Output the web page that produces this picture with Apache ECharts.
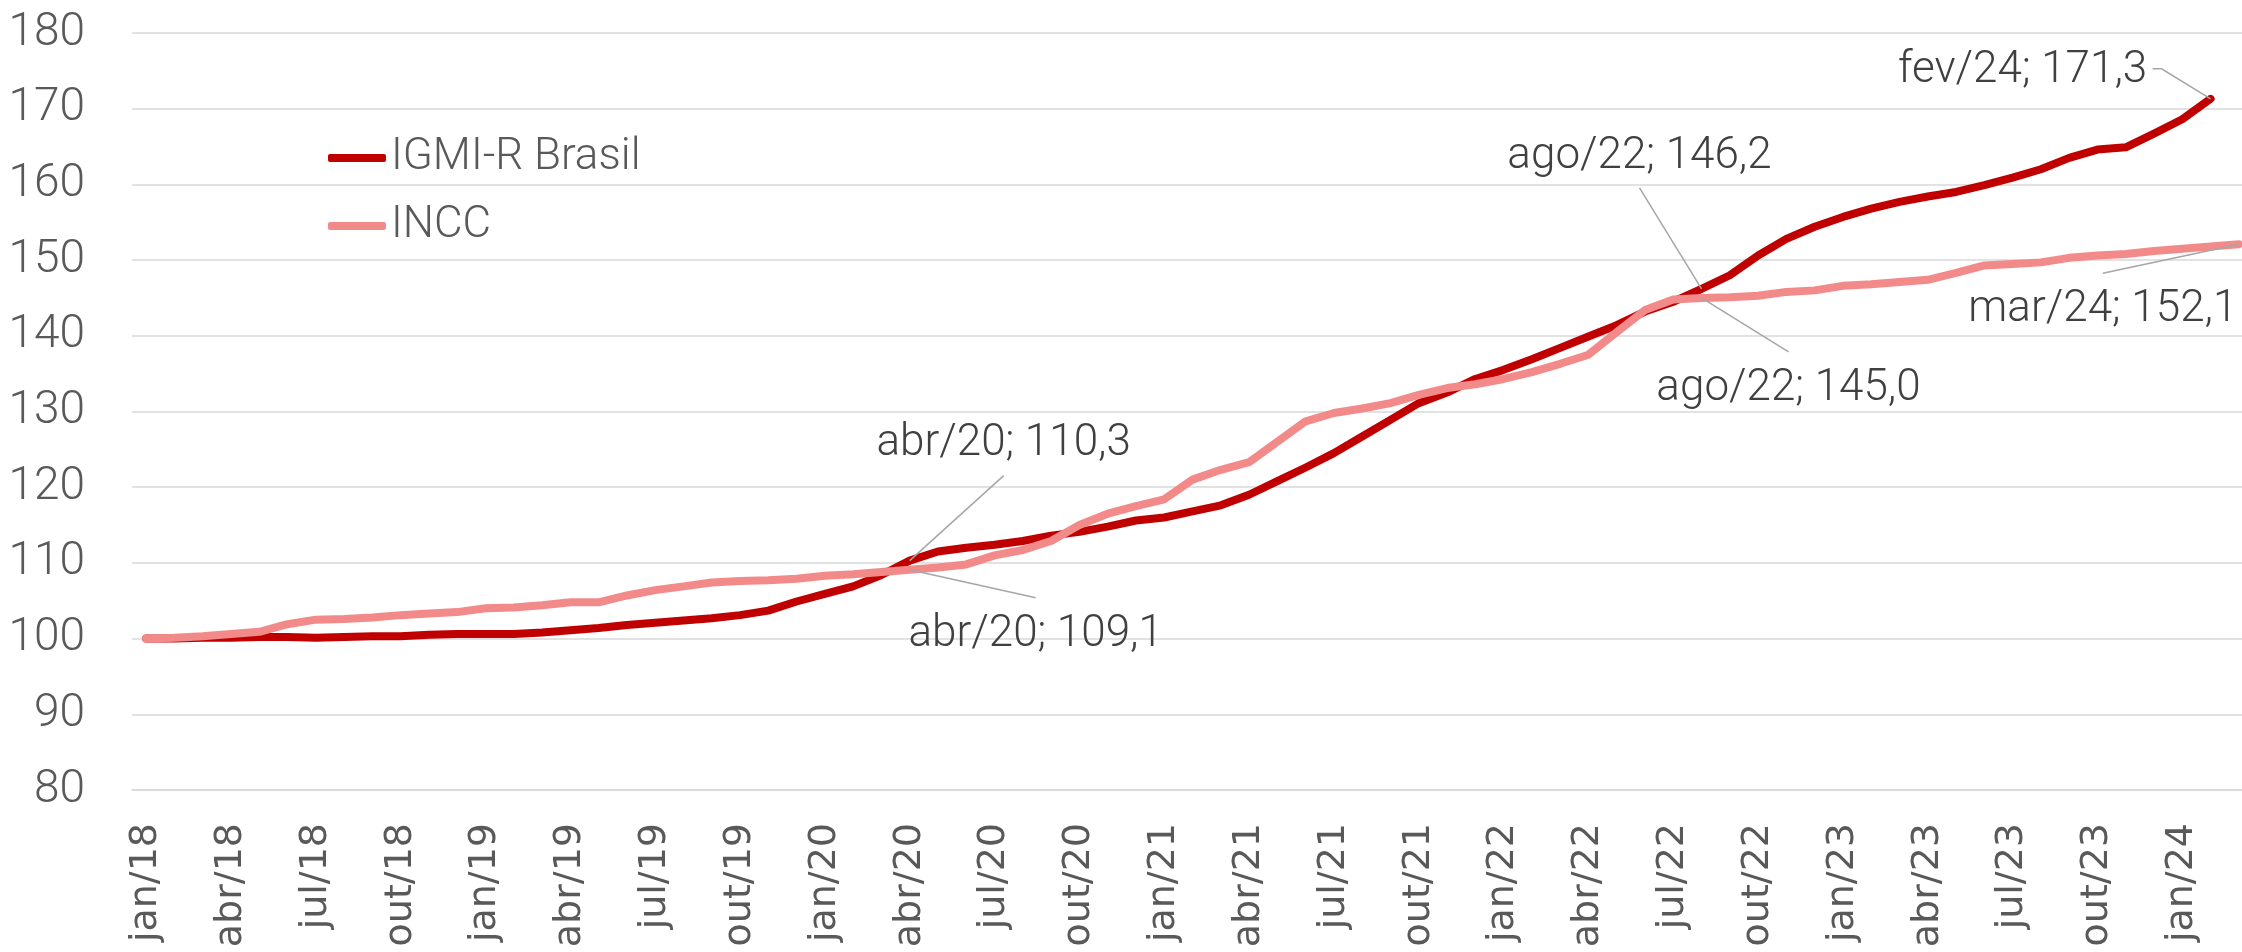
<!DOCTYPE html>
<html lang="pt">
<head>
  <meta charset="UTF-8">
  <title>IGMI-R Brasil x INCC</title>
  <style>
    html, body { margin: 0; background: #fff; }
    #chart { width: 2242px; height: 952px; }
  </style>
</head>
<body>
  <div id="chart"></div>
  <script src="https://cdn.jsdelivr.net/npm/echarts@6/dist/echarts.min.js"></script>
  <script>
    // meses de jan/18 a mar/24
    var categorias = [
      'jan/18', 'fev/18', 'mar/18', 'abr/18', 'mai/18', 'jun/18', 'jul/18', 'ago/18', 'set/18', 'out/18', 'nov/18', 'dez/18',
      'jan/19', 'fev/19', 'mar/19', 'abr/19', 'mai/19', 'jun/19', 'jul/19', 'ago/19', 'set/19', 'out/19', 'nov/19', 'dez/19',
      'jan/20', 'fev/20', 'mar/20', 'abr/20', 'mai/20', 'jun/20', 'jul/20', 'ago/20', 'set/20', 'out/20', 'nov/20', 'dez/20',
      'jan/21', 'fev/21', 'mar/21', 'abr/21', 'mai/21', 'jun/21', 'jul/21', 'ago/21', 'set/21', 'out/21', 'nov/21', 'dez/21',
      'jan/22', 'fev/22', 'mar/22', 'abr/22', 'mai/22', 'jun/22', 'jul/22', 'ago/22', 'set/22', 'out/22', 'nov/22', 'dez/22',
      'jan/23', 'fev/23', 'mar/23', 'abr/23', 'mai/23', 'jun/23', 'jul/23', 'ago/23', 'set/23', 'out/23', 'nov/23', 'dez/23',
      'jan/24', 'fev/24', 'mar/24'
    ];

    // IGMI-R Brasil (até fev/24)
    var igmi = [
      100.0, 100.0, 100.1, 100.1, 100.2, 100.2, 100.1, 100.2, 100.3, 100.3, 100.5, 100.6,
      100.6, 100.6, 100.8, 101.1, 101.4, 101.8, 102.1, 102.4, 102.7, 103.1, 103.7, 104.9,
      105.9, 106.9, 108.4, 110.3, 111.5, 112.0, 112.4, 112.9, 113.6, 114.1, 114.8, 115.6,
      116.0, 116.8, 117.6, 119.0, 120.8, 122.6, 124.5, 126.7, 128.9, 131.1, 132.5, 134.3,
      135.5, 136.9, 138.4, 139.9, 141.4, 143.2, 144.5, 146.2, 148.0, 150.6, 152.8, 154.4,
      155.7, 156.8, 157.7, 158.4, 159.0, 159.9, 160.9, 162.0, 163.5, 164.6, 164.9, 166.7,
      168.6, 171.3
    ];

    // INCC (até mar/24)
    var incc = [
      100.0, 100.1, 100.3, 100.6, 100.9, 101.9, 102.5, 102.6, 102.8, 103.1, 103.3, 103.5,
      104.0, 104.1, 104.4, 104.8, 104.8, 105.7, 106.4, 106.9, 107.4, 107.6, 107.7, 107.9,
      108.3, 108.5, 108.8, 109.1, 109.4, 109.8, 111.0, 111.7, 112.9, 115.0, 116.5, 117.5,
      118.4, 121.0, 122.3, 123.3, 126.0, 128.7, 129.8, 130.4, 131.1, 132.2, 133.1, 133.6,
      134.3, 135.2, 136.3, 137.5, 140.5, 143.4, 144.8, 145.0, 145.1, 145.3, 145.8, 146.0,
      146.6, 146.8, 147.1, 147.4, 148.3, 149.3, 149.5, 149.7, 150.3, 150.6, 150.8, 151.2,
      151.5, 151.8, 152.1
    ];

    var series = [igmi, incc];

    // pontos com rótulo: [série, índice do mês]
    var destaques = [[0, 27], [1, 27], [0, 55], [1, 55], [0, 73], [1, 74]];
    // deslocamento do centro do rótulo em relação ao ponto (px)
    var deslocRotulo = [[94, -117], [126, 65], [-62, -132], [87, 91], [-188, -28], [-136, 66]];
    // início da linha guia, relativo ao centro do rótulo (px)
    var guiaRotulo = [
      [[0, 32]],
      [[0, -37]],
      [[0, 31]],
      [[0, -37]],
      [[130, -2], [139, -2]],
      [[0, -37]]
    ];

    var fonteClara = { fontFamily: 'Roboto', fontWeight: 300 };

    function fmt(v) {
      return v.toFixed(1).replace('.', ',');
    }

    function serie(nome, valores, cor) {
      return {
        name: nome,
        type: 'line',
        data: valores,
        showSymbol: false,
        symbol: 'none',
        itemStyle: { color: cor },
        lineStyle: { color: cor, width: 8, cap: 'round', join: 'round' },
        emphasis: { disabled: true }
      };
    }

    // rótulos com linha guia, posicionados a partir das coordenadas do eixo
    var anotacoes = {
      type: 'custom',
      name: 'rotulos',
      clip: false,
      z: 5,
      silent: true,
      data: destaques.map(function (d, k) {
        return [d[1], series[d[0]][d[1]], k];
      }),
      renderItem: function (params, api) {
        var p = api.coord([api.value(0), api.value(1)]);
        var k = api.value(2);
        var idx = api.value(0);
        var cx = p[0] + deslocRotulo[k][0];
        var cy = p[1] + deslocRotulo[k][1];
        var pts = guiaRotulo[k].map(function (o) { return [cx + o[0], cy + o[1]]; });
        pts.push(p);
        return {
          type: 'group',
          children: [
            {
              type: 'polyline',
              shape: { points: pts },
              style: { stroke: '#a6a6a6', lineWidth: 1.5, fill: null }
            },
            {
              type: 'text',
              style: {
                text: categorias[idx] + '; ' + fmt(api.value(1)),
                x: cx,
                y: cy,
                align: 'center',
                verticalAlign: 'middle',
                fill: '#404040',
                font: fonteClara.fontWeight + ' 44px ' + fonteClara.fontFamily
              }
            }
          ]
        };
      }
    };

    var chart = echarts.init(document.getElementById('chart'));
    chart.setOption({
      animation: false,
      backgroundColor: '#fff',
      grid: {
        left: 132, top: 33, width: 2121, height: 757,
        containLabel: false, outerBoundsMode: 'none'
      },
      legend: {
        orient: 'vertical',
        left: 323,
        top: 130,
        itemWidth: 58,
        itemHeight: 8,
        itemGap: 22,
        icon: 'roundRect',
        textStyle: {
          color: '#595959',
          fontFamily: fonteClara.fontFamily,
          fontWeight: fonteClara.fontWeight,
          fontSize: 44,
          lineHeight: 46
        },
        data: ['IGMI-R Brasil', 'INCC']
      },
      xAxis: {
        type: 'category',
        data: categorias,
        boundaryGap: true,
        axisLine: { lineStyle: { color: '#d9d9d9', width: 1.5 } },
        axisTick: { interval: 2, length: 15, lineStyle: { color: '#d9d9d9', width: 1.5 } },
        axisLabel: {
          interval: 2,
          rotate: 90,
          margin: 33,
          color: '#595959',
          fontFamily: 'DejaVu Sans',
          fontSize: 38
        },
        splitLine: { show: false }
      },
      yAxis: {
        type: 'value',
        min: 80,
        max: 180,
        interval: 10,
        axisLine: { show: false },
        axisTick: { show: false },
        axisLabel: {
          margin: 47,
          color: '#595959',
          fontFamily: fonteClara.fontFamily,
          fontWeight: fonteClara.fontWeight,
          fontSize: 46
        },
        splitLine: { lineStyle: { color: '#d9d9d9', width: 1.5 } }
      },
      series: [
        serie('IGMI-R Brasil', igmi, '#C00000'),
        serie('INCC', incc, '#F38A8A'),
        anotacoes
      ]
    });
  </script>
</body>
</html>
